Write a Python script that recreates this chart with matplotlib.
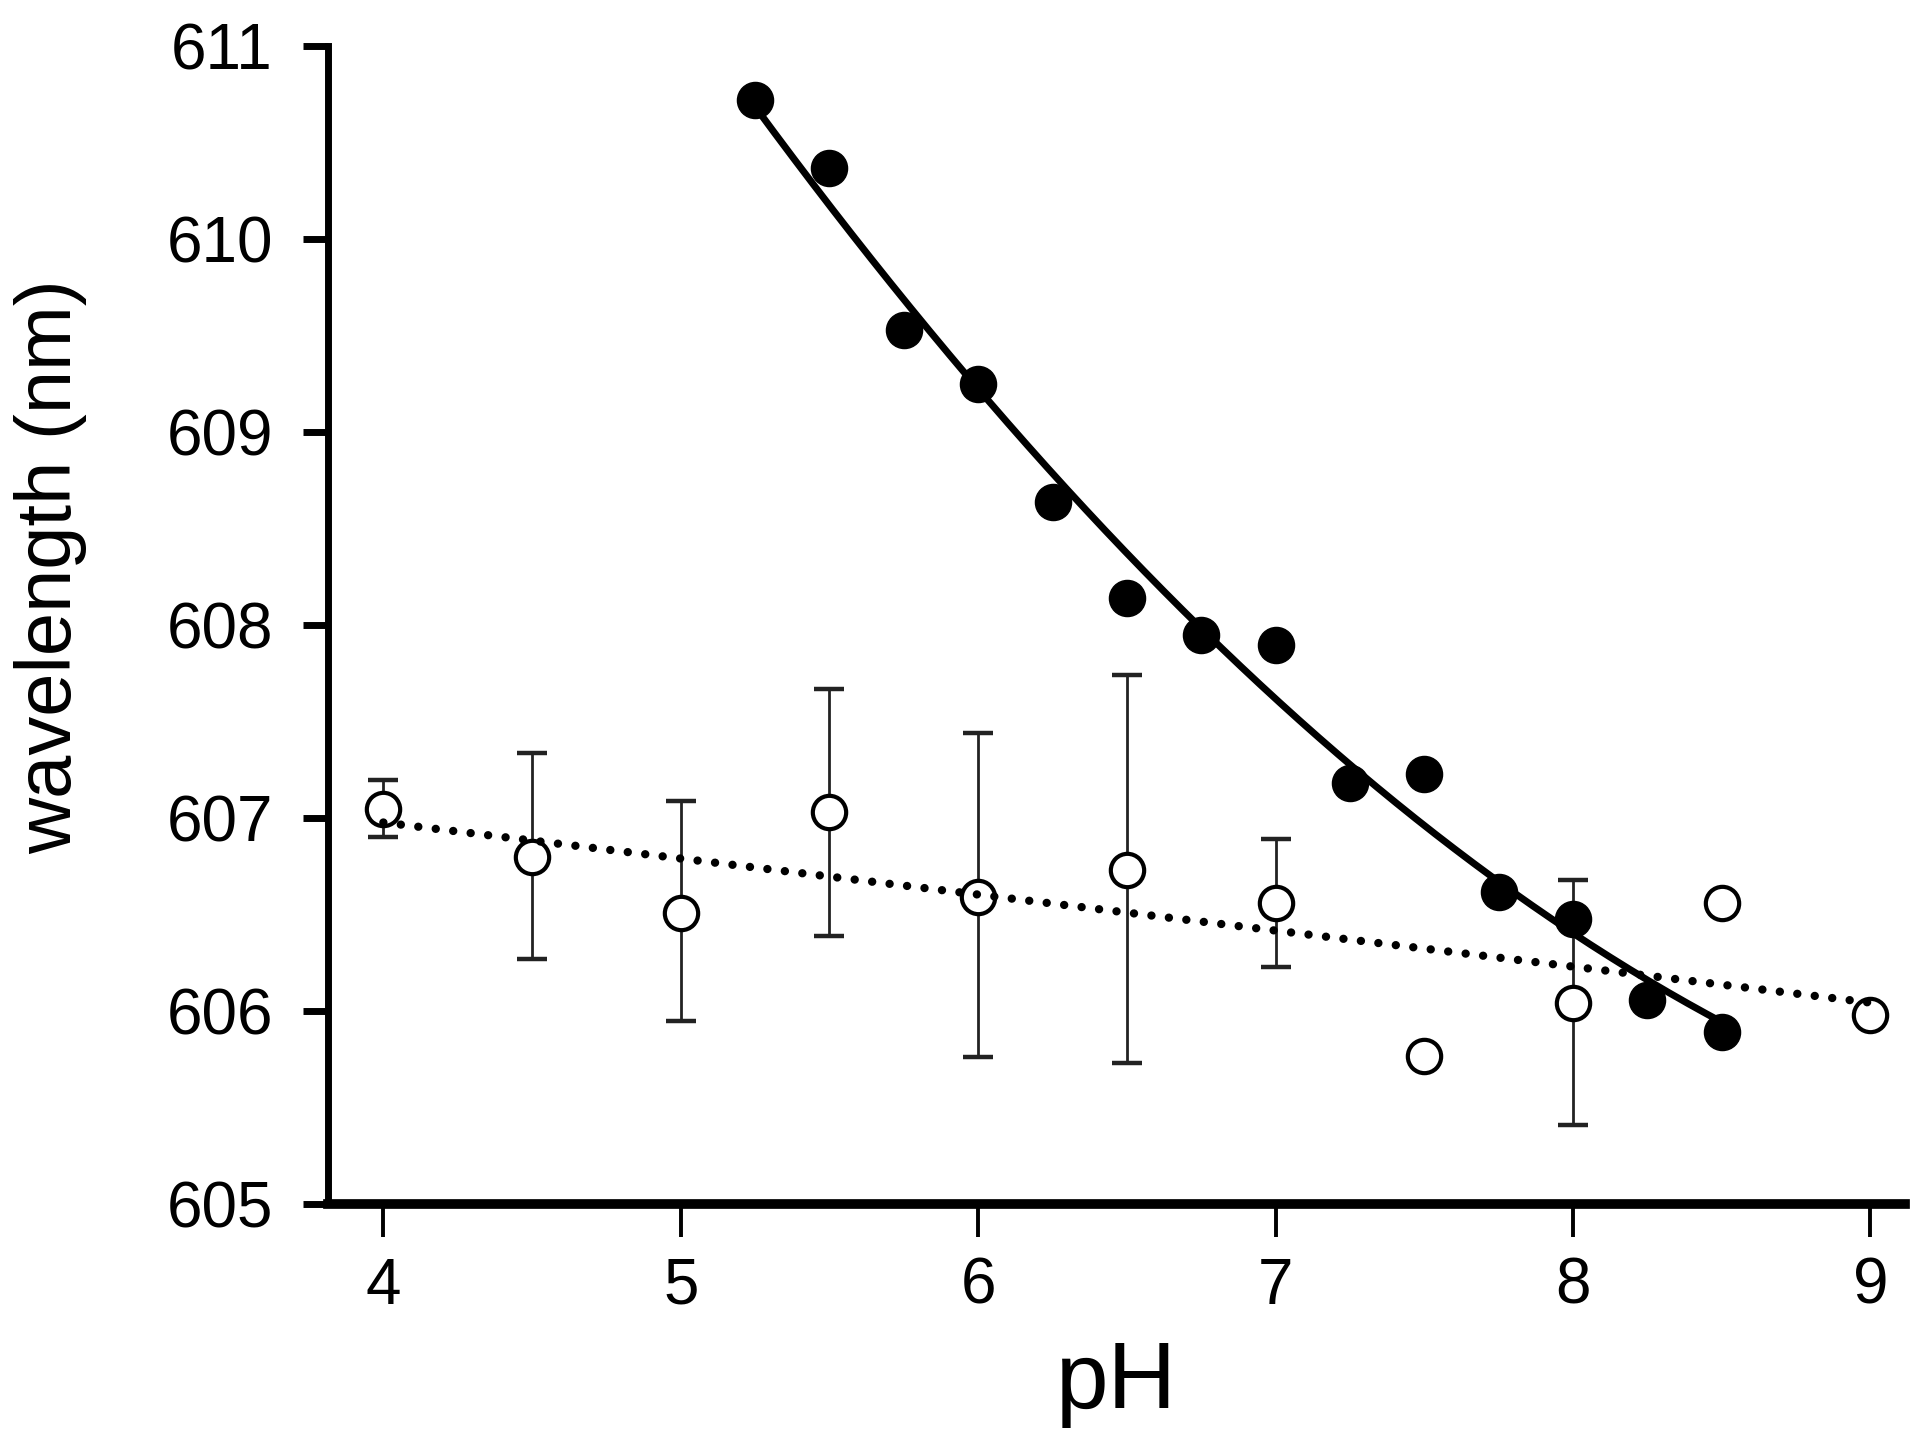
import numpy as np
import matplotlib
matplotlib.use('Agg')
import matplotlib.pyplot as plt

plt.rcParams.update({
    'font.family': ['Liberation Sans', 'DejaVu Sans'],
})

# filled series (no error bars)
ph_filled = [5.25, 5.5, 5.75, 6.0, 6.25, 6.5, 6.75, 7.0, 7.25, 7.5, 7.75, 8.0, 8.25, 8.5]
wl_filled = [610.72, 610.37, 609.53, 609.25, 608.64, 608.14, 607.95, 607.90,
             607.18, 607.23, 606.62, 606.48, 606.06, 605.89]

# open series with error bars (upper / lower ends)
ph_open = [4.0, 4.5, 5.0, 5.5, 6.0, 6.5, 7.0, 7.5, 8.0, 8.5, 9.0]
wl_open = [607.05, 606.80, 606.51, 607.03, 606.59, 606.73, 606.56, 605.77, 606.04, 606.56, 605.98]
err_hi = [607.20, 607.34, 607.09, 607.67, 607.44, 607.74, 606.89, 605.77, 606.68, 606.56, 605.98]
err_lo = [606.90, 606.27, 605.95, 606.39, 605.76, 605.73, 606.23, 605.77, 605.41, 606.56, 605.98]

x_ticks = [4, 5, 6, 7, 8, 9]
y_ticks = [605, 606, 607, 608, 609, 610, 611]

fig = plt.figure(figsize=(19.2, 14.49), dpi=100)
ax = fig.add_axes([0.171, 0.169, 0.821, 0.799])

wl_open_a = np.array(wl_open)
yerr = [wl_open_a - np.array(err_lo), np.array(err_hi) - wl_open_a]
ax.errorbar(ph_open, wl_open, yerr=yerr, fmt='none', ecolor='#222222',
            elinewidth=2, capsize=11, capthick=3.2, zorder=2)
ax.plot(ph_open, wl_open, 'o', ms=24, mfc='white', mec='black', mew=3, zorder=3)

# linear fit through open points (dotted)
c1 = np.polyfit(ph_open, wl_open, 1)
xs1 = np.linspace(min(ph_open), max(ph_open), 200)
ax.plot(xs1, np.polyval(c1, xs1), color='black', lw=6,
        linestyle=(0, (0.01, 2.1)), dash_capstyle='round', zorder=4)

# quadratic fit through filled points (solid)
ax.plot(ph_filled, wl_filled, 'o', ms=26, color='black', zorder=3)
c2 = np.polyfit(ph_filled, wl_filled, 2)
xs2 = np.linspace(min(ph_filled), max(ph_filled), 200)
ax.plot(xs2, np.polyval(c2, xs2), color='black', lw=5, zorder=4)

ax.set_xlim(3.815, 9.115)
ax.set_ylim(605, 611)
ax.set_xticks(x_ticks)
ax.set_yticks(y_ticks)
ax.spines['top'].set_visible(False)
ax.spines['right'].set_visible(False)
ax.spines['left'].set_linewidth(5)
ax.spines['bottom'].set_linewidth(7)
ax.tick_params(axis='y', length=18, width=5, labelsize=46, pad=22)
ax.tick_params(axis='x', length=24, width=2.8, labelsize=46, pad=14)
ax.set_xlabel('pH', fontsize=68, labelpad=16)
ax.set_ylabel('wavelength (nm)', fontsize=56)
ax.yaxis.set_label_coords(-0.153, 0.551)

fig.savefig('out.png', dpi=100)
